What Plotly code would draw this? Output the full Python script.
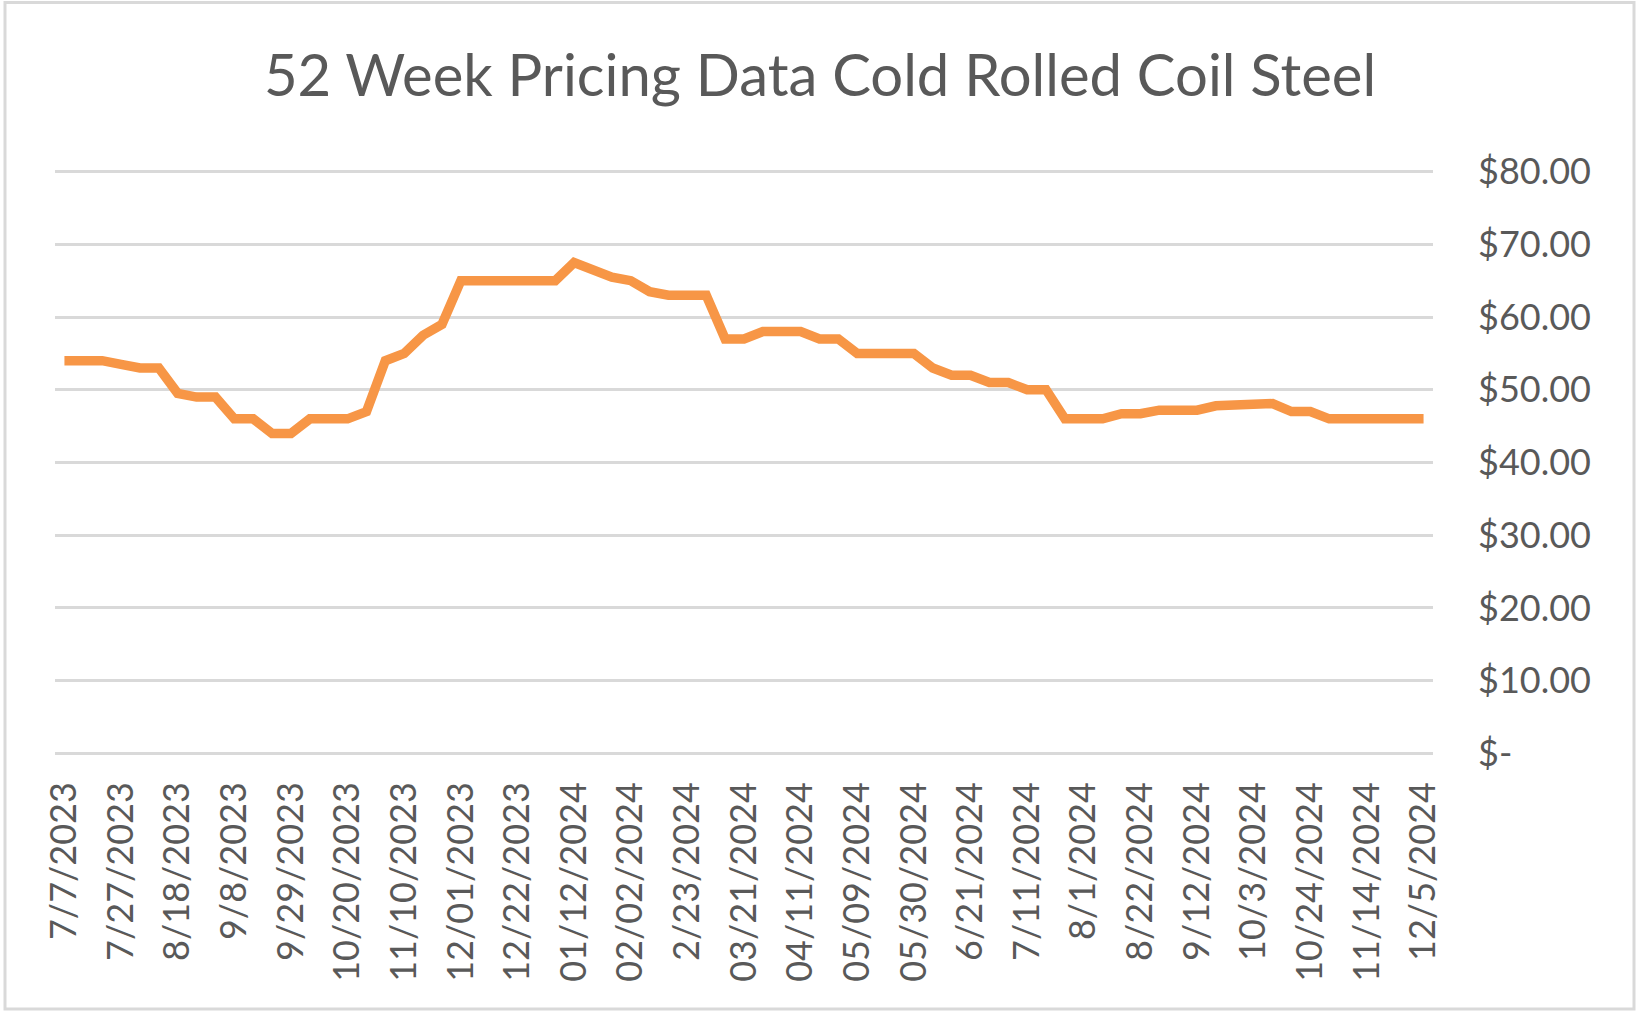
import plotly.graph_objects as go

# Tick labels shown on the category axis (every 3rd week)
tick_labels = [
    "7/7/2023", "7/27/2023", "8/18/2023", "9/8/2023", "9/29/2023",
    "10/20/2023", "11/10/2023", "12/01/2023", "12/22/2023", "01/12/2024",
    "02/02/2024", "2/23/2024", "03/21/2024", "04/11/2024", "05/09/2024",
    "05/30/2024", "6/21/2024", "7/11/2024", "8/1/2024", "8/22/2024",
    "9/12/2024", "10/3/2024", "10/24/2024", "11/14/2024", "12/5/2024",
]

# Weekly price readings ($)
prices = [
    54, 54, 54, 53.5, 53, 53, 49.5, 49, 49, 46,
    46, 44, 44, 46, 46, 46, 47, 54, 55, 57.5,
    59, 65, 65, 65, 65, 65, 65, 67.5, 66.5, 65.5,
    65, 63.5, 63, 63, 63, 57, 57, 58, 58, 58,
    57, 57, 55, 55, 55, 55, 53, 52, 52, 51,
    51, 50, 50, 46, 46, 46, 46.7, 46.7, 47.2, 47.2,
    47.2, 47.8, 47.8, 48.1, 48.1, 47, 47, 46, 46, 46,
    46, 46, 46,
]

y_ticks = [0, 10, 20, 30, 40, 50, 60, 70, 80]
y_tick_text = ["$-", "$10.00", "$20.00", "$30.00", "$40.00", "$50.00",
               "$60.00", "$70.00", "$80.00"]

W, H = 1640, 1017
ML, MR, MT, MB = 55, 207, 168, 260

x_idx = list(range(len(prices)))

fig = go.Figure()
fig.add_trace(go.Scatter(
    x=x_idx, y=prices, mode="lines",
    line=dict(color="#F79646", width=9.5),
    hoverinfo="y", showlegend=False,
))

FONT = "Lato"
GRAY = "#595959"

fig.update_layout(
    width=W, height=H,
    margin=dict(l=ML, r=MR, t=MT, b=MB, pad=0),
    paper_bgcolor="white", plot_bgcolor="white",
    title=dict(
        text="52 Week Pricing Data Cold Rolled Coil Steel",
        x=0.5, xanchor="center", xref="container",
        y=1 - 76 / H, yanchor="middle", yref="container",
        font=dict(family=FONT, size=58, color=GRAY),
    ),
    xaxis=dict(
        range=[-0.5, len(prices) - 0.5],
        tickmode="array",
        tickvals=x_idx[::3],
        ticktext=tick_labels,
        tickangle=-90,
        showgrid=False, zeroline=False, showline=False,
        ticks="", ticklabelstandoff=17,
        tickfont=dict(family=FONT, size=36, color=GRAY),
    ),
    yaxis=dict(
        range=[-0.5, 80.5], side="right",
        tickmode="array", tickvals=y_ticks, ticktext=y_tick_text,
        showgrid=True, gridcolor="#D9D9D9", gridwidth=2.5,
        zeroline=False, showline=False, ticks="",
        ticklabelstandoff=44,
        tickfont=dict(family=FONT, size=36, color=GRAY),
    ),
)

# Outer chart border
pw = W - ML - MR
ph = H - MT - MB
def px_x(v):
    return (v - ML) / pw
def px_y(v):
    return (H - MB - v) / ph
fig.add_shape(
    type="rect", xref="paper", yref="paper",
    x0=px_x(5), x1=px_x(1634), y0=px_y(2.5), y1=px_y(1009),
    line=dict(color="#D9D9D9", width=3), fillcolor="rgba(0,0,0,0)",
    layer="below",
)

fig.write_html(
    "out.html",
    config={"displayModeBar": False},
    post_script="document.body.style.margin='0';",
)
